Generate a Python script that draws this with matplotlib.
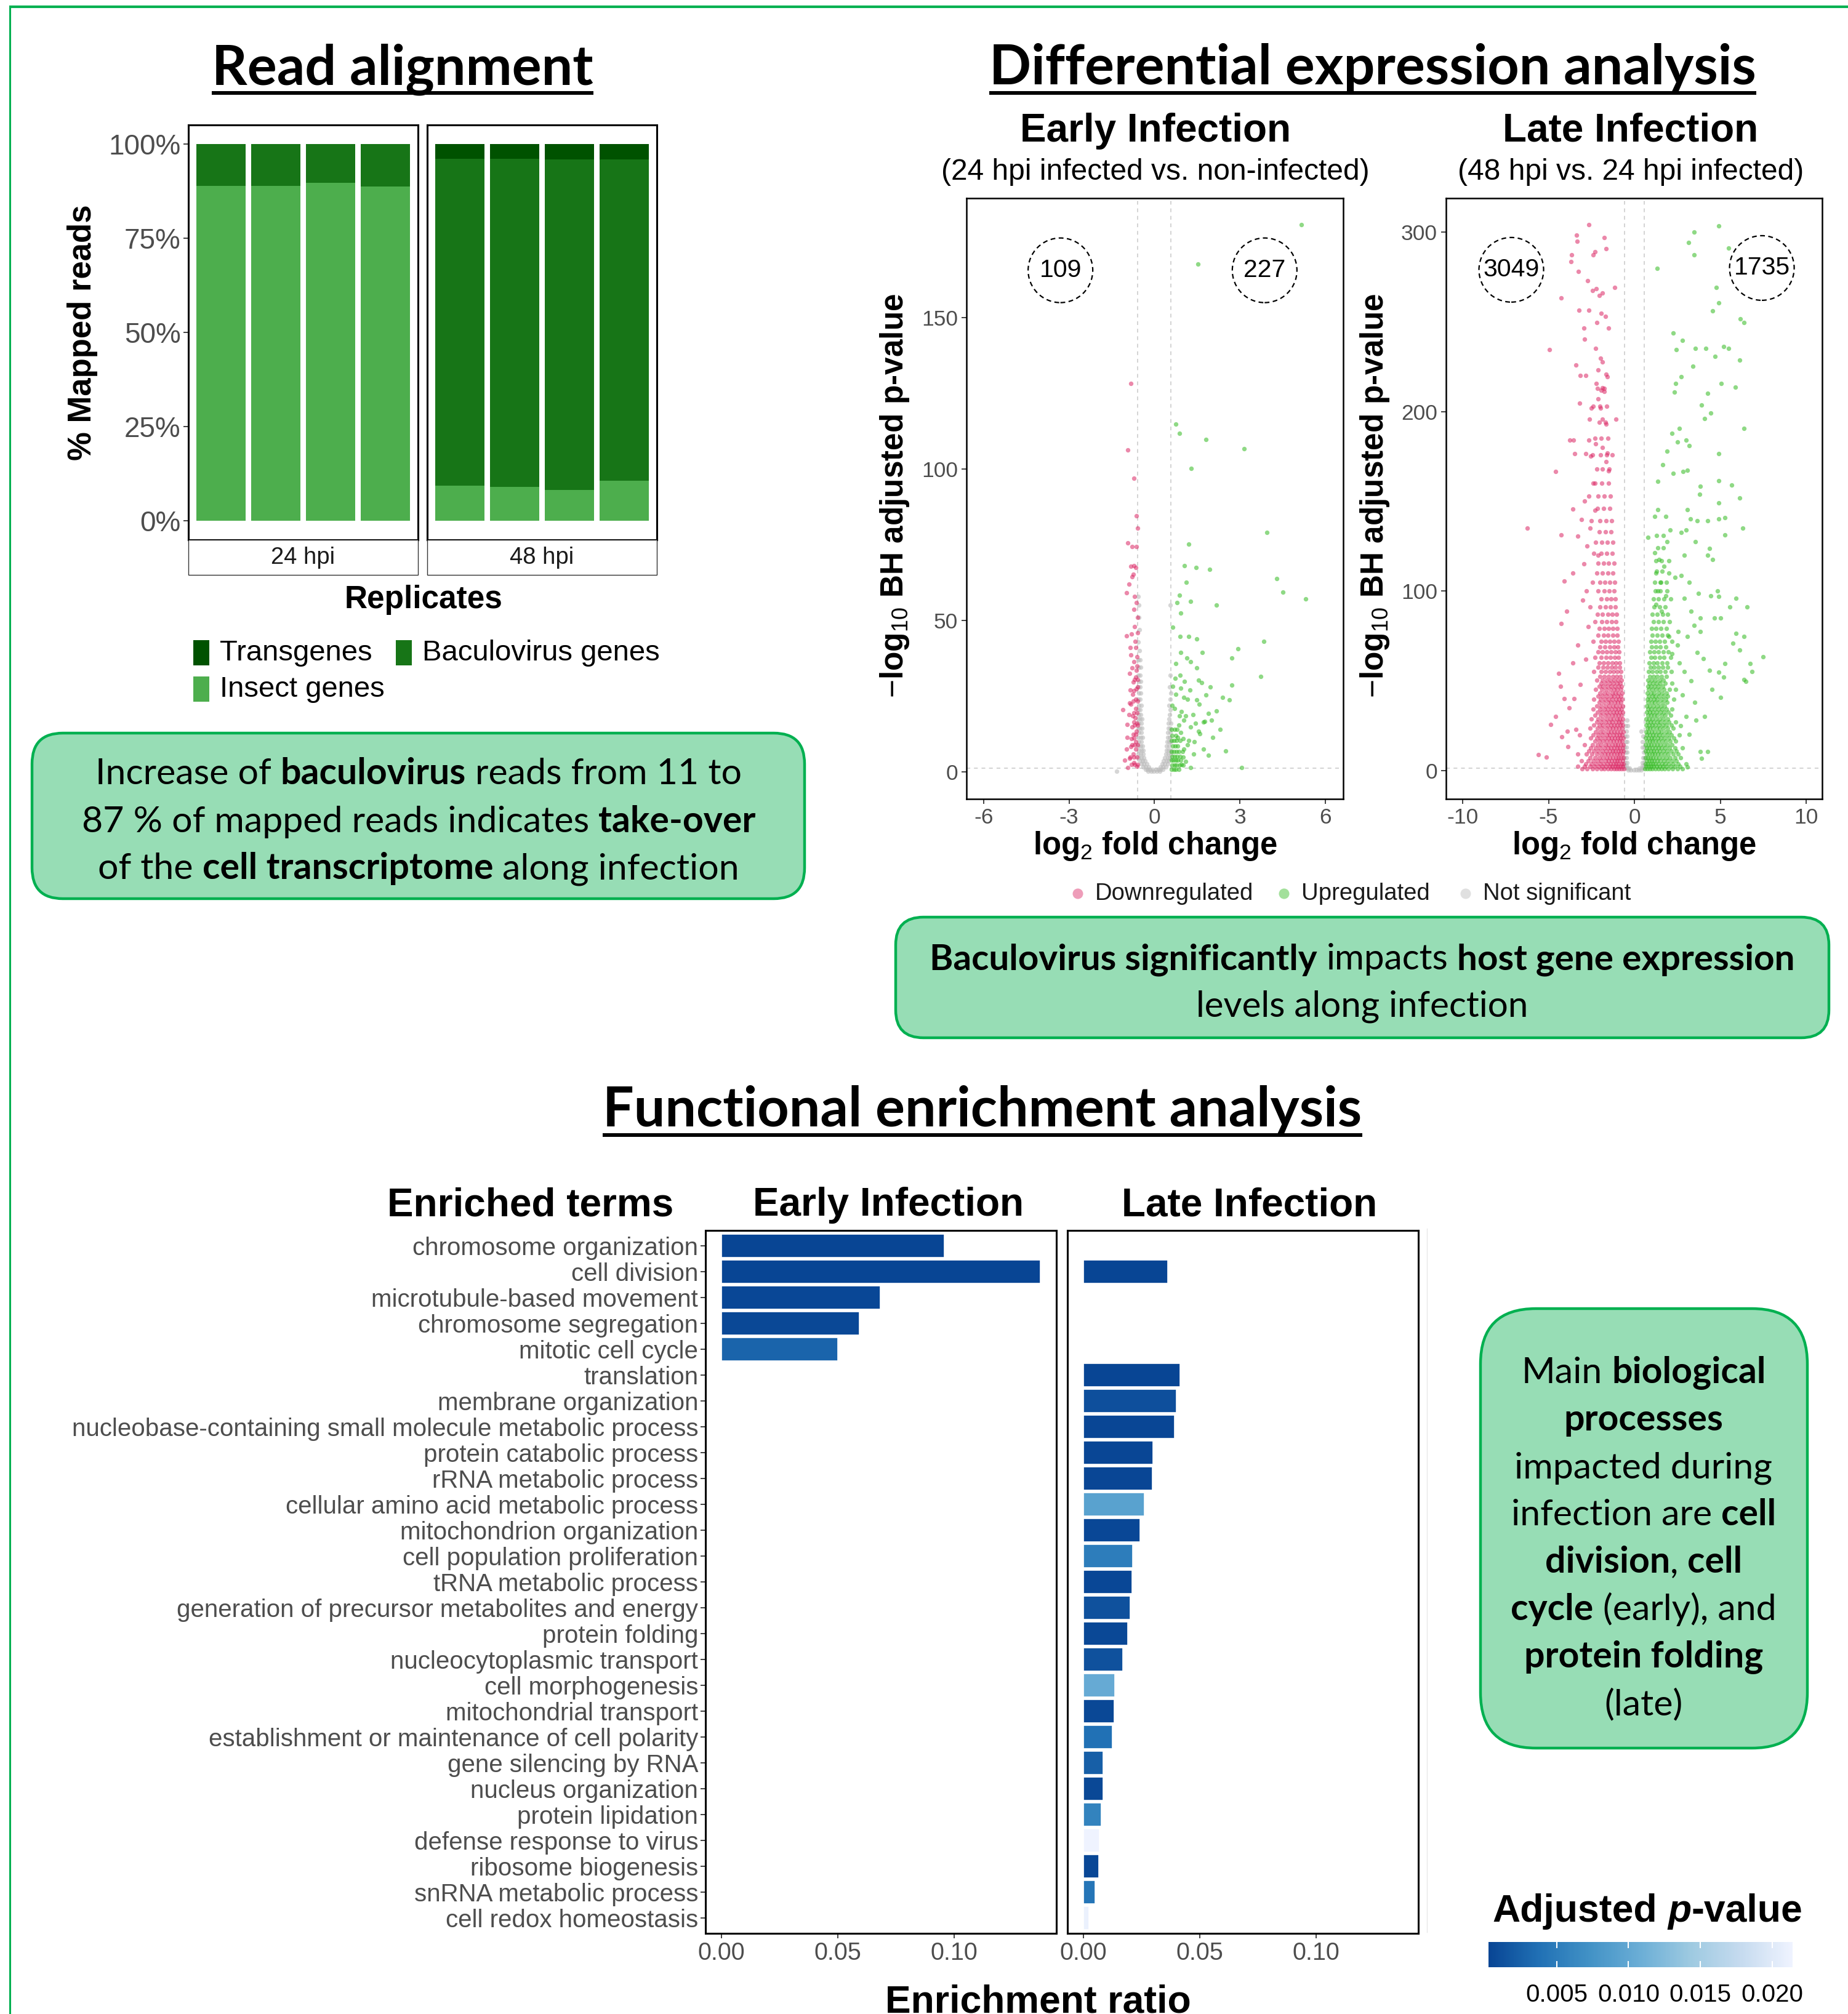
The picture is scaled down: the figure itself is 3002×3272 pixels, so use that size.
import numpy as np
import matplotlib
matplotlib.use("Agg")
import matplotlib.pyplot as plt
from matplotlib.patches import FancyBboxPatch, Rectangle, Ellipse, Circle
from matplotlib.lines import Line2D
from matplotlib.colors import LinearSegmentedColormap, Normalize
import matplotlib.cm as cm

W, H = 3002, 3272
ARIAL = "Liberation Sans"
CALIBRI = "Lato"
plt.rcParams["font.family"] = ARIAL
plt.rcParams["axes.unicode_minus"] = False
plt.rcParams["mathtext.fontset"] = "custom"
plt.rcParams["mathtext.rm"] = ARIAL
plt.rcParams["mathtext.bf"] = ARIAL + ":bold"
plt.rcParams["mathtext.it"] = ARIAL + ":italic"

# ---------------- data ----------------
# read alignment (% of mapped reads, 4 replicates per time point)
replicates = [1, 2, 3, 4]
insect_24 = [88.8, 88.9, 89.7, 88.6]
baculo_24 = [11.2, 11.1, 10.3, 11.4]
trans_24 = [0.0, 0.0, 0.0, 0.0]
insect_48 = [9.3, 9.1, 8.3, 10.6]
baculo_48 = [86.8, 87.0, 87.5, 85.2]
trans_48 = [3.9, 3.9, 4.2, 4.2]

# volcano, early infection: (log2FC, -log10 padj)
early_down = [(-0.82, 128.2), (-0.93, 106.3), (-0.71, 96.9), (-0.63, 84.6), (-0.59, 80.5), (-0.93, 75.7),
              (-0.79, 74.5), (-0.63, 74.5), (-0.82, 67.8), (-0.71, 68.1), (-0.66, 67.4), (-0.75, 65.3),
              (-0.79, 64.4), (-0.98, 59.2), (-0.63, 55.9), (-0.71, 53.7), (-0.59, 51.0), (-0.99, 45.0),
              (-0.81, 45.5), (-0.68, 43.2), (-0.66, 41.0), (-0.82, 38.7), (-0.71, 36.5), (-0.79, 34.3),
              (-0.63, 33.5), (-0.88, 32.5), (-0.66, 31.3), (-0.75, 29.8), (-0.71, 26.8), (-0.77, 25.6),
              (-0.66, 24.1), (-0.82, 22.4), (-0.88, 22.7), (-0.66, 20.9), (-0.77, 18.6), (-0.68, 17.9),
              (-0.73, 16.4), (-0.96, 15.7), (-0.79, 14.9), (-0.63, 13.4), (-0.73, 11.2), (-0.82, 8.3),
              (-0.66, 7.5), (-0.99, 7.5), (-0.88, 4.5), (-0.71, 3.0), (-0.62, 1.8), (-0.93, 1.5),
              (-1.05, 4.0), (-0.80, 11.0), (-0.90, 19.0), (-0.60, 28.0), (-0.85, 41.0), (-0.60, 46.0),
              (-0.70, 58.0), (-0.90, 62.0), (-0.62, 38.0), (-0.62, 16.0), (-0.75, 6.0), (-0.95, 11.5),
              (-0.65, 10.0), (-1.10, 20.5), (-0.70, 48.0), (-0.85, 27.0)]
early_down_rows = [(2.5, [-0.6, -0.7, -0.8]), (5.0, [-0.62, -0.72, -0.85]), (9.0, [-0.6, -0.7, -0.78]),
                   (12.5, [-0.65, -0.75]), (15.5, [-0.6, -0.7]), (19.5, [-0.62, -0.72]),
                   (23.5, [-0.6, -0.75]), (27.5, [-0.64]), (30.5, [-0.6, -0.7]), (35.0, [-0.62])]
early_up = [(5.16, 180.6), (1.53, 167.7), (0.76, 114.8), (0.87, 111.8), (1.80, 109.8), (3.16, 106.7),
            (1.29, 100.3), (3.95, 79.1), (1.20, 75.3), (1.06, 68.1), (1.47, 67.5), (1.94, 66.8),
            (4.29, 63.8), (1.12, 62.6), (4.52, 59.3), (5.31, 57.1), (0.88, 58.4), (0.79, 55.9),
            (0.93, 52.5), (1.27, 56.3), (2.17, 55.1), (0.64, 47.7), (0.90, 44.7), (1.21, 44.7),
            (1.49, 44.0), (1.69, 39.5), (3.84, 43.2), (2.94, 40.7), (2.71, 37.6), (0.93, 39.5),
            (1.13, 37.6), (1.27, 36.5), (0.76, 35.8), (1.49, 34.3), (1.55, 30.4), (3.73, 31.6),
            (2.71, 28.6), (2.62, 23.8), (2.40, 24.6), (0.64, 28.3), (0.93, 27.6), (0.76, 25.6),
            (1.04, 24.6), (1.15, 24.1), (1.49, 23.8), (1.58, 22.4), (2.17, 20.1), (1.89, 19.4),
            (1.72, 16.4), (2.00, 17.1), (1.77, 16.7), (1.55, 13.4), (1.60, 12.7), (0.70, 20.9),
            (0.87, 18.6), (1.04, 17.1), (1.27, 14.9), (1.21, 10.4), (1.72, 7.5), (1.38, 6.0),
            (1.04, 7.5), (3.07, 1.5), (1.27, 1.5), (0.95, 2.5), (1.00, 5.0), (0.82, 11.5), (0.92, 13.0),
            (1.10, 3.5), (1.15, 9.0), (0.85, 15.5), (1.00, 11.0), (0.95, 20.0), (1.10, 18.5),
            (0.62, 22.0), (0.72, 31.0), (1.35, 19.0), (1.45, 16.0), (1.25, 27.0), (1.80, 25.5),
            (2.05, 11.5), (1.95, 28.0), (2.30, 14.0), (1.65, 29.5), (0.90, 32.0), (1.05, 30.0),
            (1.40, 10.0), (1.90, 5.5), (2.50, 7.0)]
early_up_rows = [(0.8, [0.6, 0.68, 0.76, 0.85]), (2.2, [0.62, 0.7, 0.78, 0.88, 1.0]),
                 (3.8, [0.6, 0.67, 0.74, 0.82, 0.92]), (5.2, [0.63, 0.71, 0.8, 0.9]),
                 (6.8, [0.6, 0.68, 0.77, 0.86, 0.98]), (8.5, [0.64, 0.73, 0.82]),
                 (10.5, [0.6, 0.69, 0.78, 0.9]), (12.0, [0.63, 0.75]), (14.0, [0.6, 0.7, 0.8])]
early_grey_rows = [(0.3, [-0.22, -0.12, -0.02, 0.08, 0.18]),
                   (0.9, [-0.32, -0.24, -0.16, -0.08, 0.06, 0.14, 0.22, 0.3]),
                   (1.7, [-0.4, -0.3, -0.2, 0.2, 0.3, 0.4]),
                   (2.6, [-0.46, -0.37, -0.27, 0.27, 0.37, 0.46]),
                   (3.6, [-0.5, -0.42, -0.33, 0.32, 0.42, 0.5]),
                   (4.7, [-0.54, -0.46, -0.38, 0.37, 0.46, 0.54]),
                   (5.9, [-0.56, -0.48, -0.4, 0.4, 0.49, 0.57]),
                   (7.2, [-0.55, -0.47, -0.4, 0.42, 0.5, 0.57]),
                   (8.6, [-0.56, -0.48, -0.41, 0.43, 0.51]),
                   (10.0, [-0.54, -0.46, 0.44, 0.52, 0.58]),
                   (11.5, [-0.57, -0.49, -0.42, 0.46, 0.54]),
                   (13.0, [-0.55, -0.47, 0.47, 0.55]),
                   (14.5, [-0.57, -0.5, -0.43, 0.48, 0.56]),
                   (16.0, [-0.55, -0.47, 0.5, 0.57]),
                   (17.5, [-0.57, -0.5, -0.44, 0.51]),
                   (19.0, [-0.55, -0.48, 0.53]),
                   (20.5, [-0.57, -0.5, 0.55]),
                   (22.0, [-0.55, -0.47, 0.52]),
                   (24.0, [-0.56, -0.5, 0.55]),
                   (26.0, [-0.54, -0.48, 0.57]),
                   (28.0, [-0.56, -0.5, 0.53]),
                   (30.0, [-0.55, -0.49]),
                   (32.0, [-0.57, -0.51, 0.56]),
                   (34.5, [-0.54, -0.48]),
                   (37.0, [-0.56, -0.5]),
                   (40.0, [-0.53]), (43.0, [-0.56]), (47.0, [-0.52]), (51.0, [-0.55]),
                   (55.0, [-0.54, 0.55]), (58.0, [-0.56]), (0.3, [-1.33])]

# volcano, late infection
late_down = [(-2.67, 304.3), (-3.36, 298.3), (-3.34, 295.0), (-1.76, 296.8), (-1.66, 290.7), (-3.67, 287.4),
             (-3.71, 283.7), (-2.30, 289.2), (-2.40, 287.4), (-3.25, 278.1), (-2.72, 273.1), (-1.15, 269.3),
             (-2.43, 267.3), (-2.03, 264.8), (-1.85, 266.0), (-2.21, 268.6), (-4.28, 263.5), (-3.22, 256.5),
             (-2.67, 256.5), (-1.94, 254.7), (-1.70, 253.0), (-2.18, 249.7), (-1.52, 246.4), (-2.94, 246.4),
             (-2.90, 240.4), (-4.95, 234.6), (-2.25, 235.3), (-1.97, 229.6), (-1.85, 227.8), (-2.12, 223.3),
             (-1.66, 220.7), (-1.57, 219.5), (-3.40, 225.8), (-3.16, 220.2), (-2.85, 220.2), (-2.21, 215.7),
             (-1.85, 213.2), (-1.94, 211.9), (-1.76, 211.2), (-2.12, 206.9), (-3.18, 204.6), (-2.52, 201.9),
             (-1.99, 201.9), (-2.61, 195.6), (-1.85, 195.6), (-1.06, 195.6), (-1.66, 193.0), (-3.77, 184.2),
             (-3.55, 184.2), (-3.49, 176.7), (-2.85, 176.7), (-2.67, 184.0), (-2.25, 182.0), (-1.85, 180.0),
             (-1.57, 177.0), (-1.30, 176.0), (-1.66, 172.0), (-1.52, 167.0), (-4.59, 166.6), (-3.58, 145.7),
             (-6.23, 135.2), (-4.28, 131.4), (-3.31, 130.5), (-2.76, 125.0), (-2.12, 120.0), (-4.10, 105.5),
             (-3.95, 88.6), (-4.26, 81.8), (-4.86, 25.7), (-5.14, 7.3), (-5.59, 8.8), (-4.59, 30.0),
             (-4.22, 18.9), (-3.86, 13.1), (-4.40, 54.0), (-4.30, 47.0), (-4.10, 40.0), (-3.80, 35.0),
             (-3.60, 60.0), (-3.30, 70.0), (-3.00, 95.0), (-2.80, 100.0), (-3.40, 23.0), (-3.90, 22.0),
             (-2.90, 150.0), (-2.40, 160.0), (-3.10, 140.0), (-2.60, 135.0), (-3.60, 110.0), (-2.30, 145.0),
             (-2.95, 115.0), (-2.70, 80.0), (-3.15, 48.0), (-2.85, 62.0), (-3.50, 40.0), (-2.55, 175.0)]
late_down_rows = [
    (0.8, [-0.62, -0.75, -0.9, -1.05, -1.2, -1.38, -1.55, -1.75, -1.95, -2.2, -2.45, -2.75, -3.05]),
    (2.2, [-0.68, -0.82, -0.97, -1.12, -1.28, -1.45, -1.65, -1.85, -2.08, -2.32, -2.6, -2.9, -3.3]),
    (3.8, [-0.63, -0.77, -0.92, -1.07, -1.22, -1.4, -1.58, -1.78, -2.0, -2.25, -2.5, -2.85]),
    (5.5, [-0.7, -0.85, -1.0, -1.15, -1.32, -1.5, -1.7, -1.92, -2.15, -2.4, -2.7, -3.1]),
    (7.2, [-0.64, -0.78, -0.93, -1.08, -1.25, -1.43, -1.62, -1.83, -2.05, -2.3, -2.6]),
    (9.0, [-0.7, -0.85, -1.0, -1.17, -1.35, -1.53, -1.73, -1.95, -2.2, -2.48, -2.8, -3.3]),
    (10.8, [-0.63, -0.78, -0.93, -1.1, -1.27, -1.45, -1.65, -1.87, -2.1, -2.35, -2.65]),
    (12.6, [-0.7, -0.86, -1.02, -1.19, -1.37, -1.56, -1.77, -2.0, -2.25, -2.55]),
    (14.4, [-0.64, -0.8, -0.96, -1.13, -1.3, -1.49, -1.7, -1.92, -2.15, -2.45, -2.9]),
    (16.2, [-0.71, -0.87, -1.04, -1.21, -1.4, -1.6, -1.82, -2.05, -2.3]),
    (18.0, [-0.65, -0.81, -0.98, -1.15, -1.33, -1.52, -1.73, -1.96, -2.2, -2.55]),
    (19.8, [-0.72, -0.88, -1.05, -1.23, -1.42, -1.63, -1.85, -2.1, -2.4, -3.2]),
    (21.6, [-0.66, -0.82, -0.99, -1.17, -1.36, -1.56, -1.78, -2.0, -2.25]),
    (23.4, [-0.73, -0.9, -1.07, -1.25, -1.45, -1.66, -1.9, -2.15, -2.6]),
    (25.2, [-0.67, -0.83, -1.0, -1.19, -1.38, -1.59, -1.82, -2.05, -2.35]),
    (27.0, [-0.74, -0.91, -1.09, -1.28, -1.48, -1.7, -1.95, -2.2]),
    (28.8, [-0.68, -0.85, -1.02, -1.21, -1.41, -1.62, -1.86, -2.12, -2.5]),
    (30.6, [-0.75, -0.92, -1.1, -1.3, -1.5, -1.73, -1.98, -2.3]),
    (32.4, [-0.69, -0.86, -1.04, -1.23, -1.43, -1.65, -1.9, -2.15]),
    (34.2, [-0.76, -0.94, -1.12, -1.32, -1.53, -1.76, -2.02, -2.4]),
    (36.0, [-0.7, -0.88, -1.06, -1.25, -1.46, -1.68, -1.93, -2.2]),
    (37.8, [-0.78, -0.96, -1.15, -1.35, -1.56, -1.8, -2.05]),
    (39.6, [-0.72, -0.9, -1.08, -1.28, -1.49, -1.72, -1.98, -2.35]),
    (41.4, [-0.79, -0.98, -1.17, -1.38, -1.6, -1.85, -2.1]),
    (43.2, [-0.73, -0.92, -1.11, -1.31, -1.53, -1.77, -2.0]),
    (45.0, [-0.8, -1.0, -1.2, -1.41, -1.64, -1.9, -2.25]),
    (46.8, [-0.75, -0.94, -1.14, -1.35, -1.57, -1.82, -2.05]),
    (48.6, [-0.82, -1.02, -1.23, -1.45, -1.68, -1.95]),
    (50.4, [-0.77, -0.97, -1.17, -1.39, -1.62, -1.87, -2.2]),
    (52.5, [-0.84, -1.05, -1.27, -1.5, -1.75, -2.0]),
    (55.0, [-0.8, -1.0, -1.22, -1.45, -1.7, -1.95, -2.35]),
    (57.5, [-0.88, -1.1, -1.33, -1.57, -1.83, -2.1]),
    (60.0, [-0.85, -1.07, -1.3, -1.54, -1.8, -2.05]),
    (63.0, [-0.92, -1.15, -1.4, -1.65, -1.92, -2.3]),
    (66.0, [-0.9, -1.12, -1.36, -1.6, -1.87, -2.1]),
    (69.0, [-0.97, -1.2, -1.45, -1.72, -2.0]),
    (72.0, [-0.95, -1.18, -1.42, -1.68, -1.95, -2.4]),
    (75.5, [-1.02, -1.27, -1.53, -1.8, -2.1]),
    (79.0, [-1.0, -1.24, -1.5, -1.77, -2.05]),
    (83.0, [-1.08, -1.33, -1.6, -1.9, -2.3]),
    (87.0, [-1.05, -1.3, -1.56, -1.85, -2.15]),
    (91.0, [-1.12, -1.4, -1.68, -2.0, -2.6]),
    (95.5, [-1.1, -1.36, -1.63, -1.93]),
    (100.0, [-1.18, -1.46, -1.75, -2.1]),
    (105.0, [-1.15, -1.42, -1.72, -2.0, -2.45]),
    (110.0, [-1.25, -1.55, -1.85, -2.2]),
    (115.5, [-1.2, -1.5, -1.8, -2.1]),
    (121.0, [-1.3, -1.62, -1.95, -2.35]),
    (127.0, [-1.27, -1.58, -1.9, -2.25]),
    (133.0, [-1.38, -1.7, -2.05]),
    (139.0, [-1.33, -1.66, -2.0, -2.5]),
    (146.0, [-1.45, -1.8, -2.15]),
    (153.0, [-1.4, -1.75, -2.1, -2.65]),
    (160.0, [-1.52, -1.9, -2.3]),
    (168.0, [-1.48, -1.85, -2.2]),
    (176.0, [-1.6, -1.98, -2.45]),
    (185.0, [-1.55, -1.93, -2.3]),
    (194.0, [-1.68, -2.05]),
    (203.0, [-1.62, -2.0, -2.4]),
    (213.0, [-1.75, -2.15])]
late_up = [(4.92, 303.3), (3.46, 300.0), (3.14, 294.2), (3.49, 287.4), (5.47, 291.2), (1.32, 279.9),
           (4.77, 269.0), (4.92, 260.5), (4.55, 256.0), (6.16, 251.7), (6.38, 249.7), (2.27, 243.9),
           (2.78, 239.6), (2.45, 234.6), (3.55, 235.1), (4.15, 235.1), (5.19, 236.3), (5.47, 235.3),
           (4.70, 230.8), (6.11, 228.8), (3.42, 225.3), (2.72, 219.5), (2.39, 215.7), (5.06, 215.7),
           (5.87, 213.7), (2.32, 210.7), (4.28, 210.2), (3.91, 203.6), (4.46, 199.3), (4.10, 196.1),
           (6.38, 190.5), (2.18, 188.0), (2.63, 190.5), (2.50, 183.0), (3.00, 184.2), (3.18, 181.0),
           (1.90, 178.0), (1.63, 170.4), (2.27, 165.4), (2.82, 166.6), (3.09, 167.4), (4.92, 176.7),
           (4.92, 161.6), (5.65, 159.0), (6.12, 152.0), (1.35, 161.0), (3.82, 158.3), (3.78, 154.0),
           (4.92, 149.0), (1.35, 145.2), (1.17, 141.5), (1.81, 141.5), (3.09, 145.2), (3.27, 140.2),
           (3.64, 139.0), (4.28, 139.0), (4.92, 140.2), (5.25, 140.7), (6.29, 135.0), (5.28, 131.4),
           (0.80, 130.0), (2.08, 134.0), (1.90, 127.6), (2.72, 132.6), (3.00, 133.9), (3.55, 127.6),
           (2.91, 120.0), (4.37, 123.8), (4.28, 120.0), (4.55, 117.5), (1.17, 121.3), (1.44, 117.5),
           (1.72, 113.8), (1.99, 110.0), (2.36, 107.5), (1.26, 110.0), (1.54, 105.0), (1.35, 100.0),
           (1.81, 97.4), (1.26, 92.4), (1.59, 88.6), (2.72, 108.7), (3.18, 105.0), (3.73, 98.7),
           (4.46, 97.4), (4.83, 100.0), (4.92, 96.9), (5.92, 96.1), (6.56, 91.1), (2.91, 96.1),
           (3.31, 88.6), (3.82, 84.8), (4.64, 84.8), (5.01, 84.8), (5.56, 91.1), (5.92, 76.5),
           (6.38, 74.8), (5.74, 71.0), (6.11, 67.2), (6.75, 59.7), (6.84, 55.1), (7.48, 63.4),
           (6.38, 50.8), (6.47, 49.6), (5.28, 59.7), (4.92, 54.6), (5.01, 40.8), (5.19, 52.1),
           (4.37, 55.9), (4.00, 62.2), (3.64, 65.9), (3.82, 10.6), (4.28, 10.6), (3.91, 6.8),
           (3.09, 1.8), (1.99, 74.8), (2.54, 77.3), (3.09, 74.8), (3.46, 81.0), (3.82, 77.3),
           (2.60, 60.0), (2.90, 55.0), (3.30, 50.0), (2.40, 45.0), (2.80, 42.0), (3.50, 38.0),
           (3.00, 30.0), (2.70, 25.0), (3.20, 20.0), (2.20, 65.0), (2.50, 70.0), (4.50, 45.0),
           (4.10, 30.0), (3.60, 28.0)]
late_up_rows = [
    (0.8, [0.62, 0.75, 0.9, 1.05, 1.2, 1.38, 1.56, 1.76, 1.98, 2.22, 2.5, 2.8]),
    (2.2, [0.68, 0.82, 0.97, 1.12, 1.29, 1.47, 1.66, 1.87, 2.1, 2.35, 2.65]),
    (3.8, [0.63, 0.77, 0.92, 1.07, 1.23, 1.41, 1.6, 1.8, 2.02, 2.27, 2.55, 3.0]),
    (5.5, [0.7, 0.85, 1.0, 1.16, 1.33, 1.51, 1.71, 1.93, 2.17, 2.45]),
    (7.2, [0.64, 0.78, 0.93, 1.09, 1.26, 1.44, 1.64, 1.85, 2.08, 2.35, 2.7]),
    (9.0, [0.7, 0.86, 1.02, 1.18, 1.36, 1.55, 1.76, 1.98, 2.25, 2.55]),
    (10.8, [0.63, 0.79, 0.95, 1.11, 1.29, 1.48, 1.68, 1.9, 2.15, 2.45]),
    (12.6, [0.71, 0.87, 1.03, 1.2, 1.38, 1.58, 1.8, 2.05, 2.35, 2.8]),
    (14.4, [0.65, 0.81, 0.97, 1.14, 1.32, 1.51, 1.72, 1.95, 2.2]),
    (16.2, [0.72, 0.88, 1.05, 1.22, 1.41, 1.61, 1.83, 2.08, 2.4]),
    (18.0, [0.66, 0.82, 0.99, 1.16, 1.35, 1.55, 1.77, 2.0, 2.3]),
    (19.8, [0.73, 0.9, 1.07, 1.25, 1.44, 1.65, 1.88, 2.15, 2.6]),
    (21.6, [0.67, 0.84, 1.01, 1.19, 1.38, 1.59, 1.82, 2.05]),
    (23.4, [0.74, 0.91, 1.09, 1.28, 1.48, 1.7, 1.94, 2.25]),
    (25.2, [0.68, 0.85, 1.03, 1.22, 1.42, 1.63, 1.87, 2.15]),
    (27.0, [0.75, 0.93, 1.12, 1.31, 1.52, 1.75, 2.0, 2.4]),
    (28.8, [0.69, 0.87, 1.05, 1.25, 1.45, 1.67, 1.92]),
    (30.6, [0.77, 0.95, 1.14, 1.34, 1.56, 1.8, 2.1]),
    (32.4, [0.71, 0.89, 1.08, 1.28, 1.49, 1.72, 1.98]),
    (34.2, [0.78, 0.97, 1.17, 1.38, 1.6, 1.85, 2.2]),
    (36.0, [0.72, 0.91, 1.1, 1.31, 1.53, 1.77]),
    (37.8, [0.8, 0.99, 1.19, 1.41, 1.64, 1.9]),
    (39.6, [0.74, 0.93, 1.13, 1.34, 1.57, 1.82, 2.3]),
    (41.4, [0.82, 1.02, 1.22, 1.44, 1.68, 1.95]),
    (43.2, [0.76, 0.95, 1.16, 1.38, 1.61, 1.87]),
    (45.0, [0.84, 1.04, 1.25, 1.48, 1.72, 2.05]),
    (46.8, [0.78, 0.98, 1.19, 1.41, 1.65]),
    (48.6, [0.86, 1.07, 1.29, 1.52, 1.78, 2.2]),
    (50.4, [0.8, 1.01, 1.22, 1.45, 1.7]),
    (52.5, [0.88, 1.1, 1.33, 1.57, 1.85]),
    (55.0, [0.83, 1.05, 1.28, 1.52, 1.8, 2.15]),
    (57.5, [0.92, 1.15, 1.39, 1.65, 1.95]),
    (60.0, [0.87, 1.1, 1.34, 1.6, 1.88]),
    (63.0, [0.95, 1.19, 1.45, 1.73, 2.1]),
    (66.0, [0.9, 1.14, 1.4, 1.68, 1.98]),
    (69.0, [1.0, 1.25, 1.52, 1.82]),
    (72.0, [0.95, 1.2, 1.47, 1.76, 2.2]),
    (75.5, [1.05, 1.31, 1.6, 1.92]),
    (79.0, [1.0, 1.27, 1.55, 1.85]),
    (83.0, [1.1, 1.38, 1.68, 2.05]),
    (87.0, [1.05, 1.33, 1.63, 1.95]),
    (91.0, [1.15, 1.45, 1.78]),
    (95.5, [1.1, 1.4, 1.72, 2.1]),
    (100.0, [1.2, 1.52, 1.88]),
    (105.0, [1.18, 1.5, 1.85]),
    (111.0, [1.28, 1.62]),
    (117.0, [1.25, 1.58, 2.0]),
    (124.0, [1.35, 1.7]),
    (131.0, [1.3, 1.68])]
late_grey_rows = [(0.3, [-0.35, -0.2, -0.05, 0.1, 0.25, 0.4]),
                  (1.2, [-0.5, -0.4, -0.28, 0.3, 0.42, 0.52]),
                  (2.5, [-0.56, -0.46, 0.46, 0.56]),
                  (4.5, [-0.55, -0.45, 0.48, 0.57]),
                  (7.0, [-0.57, -0.48, 0.5, 0.58]),
                  (10.0, [-0.52, -0.44, 0.52]),
                  (13.0, [-0.56, -0.46, 0.48, 0.56]),
                  (16.0, [-0.5, -0.42, 0.45]),
                  (19.0, [-0.55, -0.44, 0.5]),
                  (22.0, [-0.48, 0.38]),
                  (25.0, [-0.52, -0.4]),
                  (28.0, [-0.45])]
n_early = (109, 227)
n_late = (3049, 1735)

# functional enrichment
terms = ["chromosome organization", "cell division", "microtubule-based movement",
         "chromosome segregation", "mitotic cell cycle", "translation", "membrane organization",
         "nucleobase-containing small molecule metabolic process", "protein catabolic process",
         "rRNA metabolic process", "cellular amino acid metabolic process", "mitochondrion organization",
         "cell population proliferation", "tRNA metabolic process",
         "generation of precursor metabolites and energy", "protein folding",
         "nucleocytoplasmic transport", "cell morphogenesis", "mitochondrial transport",
         "establishment or maintenance of cell polarity", "gene silencing by RNA",
         "nucleus organization", "protein lipidation", "defense response to virus",
         "ribosome biogenesis", "snRNA metabolic process", "cell redox homeostasis"]
nan = np.nan
early_ratio = [0.0958, 0.137, 0.0682, 0.0593, 0.0501] + [nan] * 22
early_padj = [0.00027, 0.0003, 0.0005, 0.0006, 0.0028] + [nan] * 22
late_ratio = [nan, 0.0362, nan, nan, nan, 0.0415, 0.0399, 0.0391, 0.0299, 0.0297, 0.0263, 0.0244,
              0.0213, 0.0209, 0.0201, 0.0192, 0.0171, 0.0136, 0.0134, 0.0126, 0.0086, 0.0084,
              0.0076, 0.0069, 0.0066, 0.0051, 0.0024]
late_padj = [nan, 0.0003, nan, nan, nan, 0.0003, 0.0011, 0.0004, 0.0004, 0.0004, 0.0093, 0.0005,
             0.0051, 0.0005, 0.0013, 0.0006, 0.0013, 0.0104, 0.0006, 0.0039, 0.0024, 0.0006,
             0.0058, 0.0214, 0.0005, 0.0043, 0.0210]

# ---------------- styling ----------------
C_TRANS, C_BAC, C_INS = "#005200", "#177517", "#4DAE4D"
C_DOWN, C_UP, C_NS = "#DB2764", "#33BB22", "#BBBBBB"
BOX_FC, BOX_EC = "#97DDB5", "#00B050"
GREY30, GREY20 = "#4D4D4D", "#333333"
BLUES = ["#084594", "#2171B5", "#4292C6", "#6BAED6", "#9ECAE1", "#C6DBEF", "#EFF3FF"]
PT = 28  # volcano point size

fig = plt.figure(figsize=(W / 100, H / 100), dpi=100)
R = fig.canvas.get_renderer()


def px_axes(x0, y0, x1, y1):
    return fig.add_axes([x0 / W, 1 - y1 / H, (x1 - x0) / W, (y1 - y0) / H])


def ftext(x, y, s, **kw):
    return fig.text(x / W, 1 - y / H, s, **kw)


def measure(s, **kw):
    t = fig.text(0, 0, s, **kw)
    w = t.get_window_extent(renderer=R).width
    t.remove()
    return w


def rich(xc, yb, parts, size, family):
    # parts: list of (text, weight, style); laid out left to right, centred on xc
    segs, x = [], 0.0
    for txt, wt, st in parts:
        kw = dict(fontsize=size, fontweight=wt, fontstyle=st, family=family)
        sp = measure("a a", **kw) - measure("aa", **kw)
        x += sp * (len(txt) - len(txt.lstrip(" ")))
        core = txt.strip(" ")
        segs.append((x, core, kw))
        x += measure(core, **kw)
        x += sp * (len(txt) - len(txt.rstrip(" ")))
    x0 = xc - x / 2
    for off, core, kw in segs:
        ftext(x0 + off, yb, core, ha="left", va="baseline", color="black", **kw)


def section_title(xc, yb, s):
    t = ftext(xc, yb, s, ha="center", va="baseline", fontsize=64.5, fontweight="bold", family=CALIBRI)
    bb = t.get_window_extent(renderer=R)
    fig.add_artist(Line2D([bb.x0 / 100, bb.x1 / 100], [(H - yb - 14) / 100] * 2,
                          transform=fig.dpi_scale_trans, color="black", lw=4.3, solid_capstyle="butt"))


def green_box(x0, y0, x1, y1, r):
    fig.add_artist(FancyBboxPatch((x0 / 100, (H - y1) / 100), (x1 - x0) / 100, (y1 - y0) / 100,
                                  boxstyle="round,pad=0,rounding_size=%.3f" % (r / 100),
                                  transform=fig.dpi_scale_trans, fc=BOX_FC, ec=BOX_EC, lw=3.2))


def expand(points, rows):
    xs = [p[0] for p in points] + [x for y, row in rows for x in row]
    ys = [p[1] for p in points] + [y for y, row in rows for x in row]
    return xs, ys


# green frame
fig.add_artist(Line2D([15 / 100, W / 100], [(H - 11) / 100] * 2, transform=fig.dpi_scale_trans,
                      color=BOX_EC, lw=3, solid_capstyle="butt"))
fig.add_artist(Line2D([16 / 100, 16 / 100], [0, (H - 9) / 100], transform=fig.dpi_scale_trans,
                      color=BOX_EC, lw=2.2, solid_capstyle="butt"))

# ---------------- read alignment ----------------
section_title(654, 137, "Read alignment")
for i, (ins, bac, tr, lab) in enumerate([(insect_24, baculo_24, trans_24, "24 hpi"),
                                          (insect_48, baculo_48, trans_48, "48 hpi")]):
    x0 = 306 + i * 388
    ax = px_axes(x0, 203, x0 + 373, 877)
    ins, bac, tr = np.array(ins), np.array(bac), np.array(tr)
    ax.bar(replicates, ins, width=0.9, color=C_INS, lw=0)
    ax.bar(replicates, bac, bottom=ins, width=0.9, color=C_BAC, lw=0)
    ax.bar(replicates, tr, bottom=ins + bac, width=0.9, color=C_TRANS, lw=0)
    ax.set_xlim(0.4, 4.6)
    ax.set_ylim(-5, 105)
    ax.set_xticks([])
    for s in ax.spines.values():
        s.set_linewidth(2.2)
    if i == 0:
        ax.set_yticks([0, 25, 50, 75, 100])
        ax.set_yticklabels(["0%", "25%", "50%", "75%", "100%"])
        ax.tick_params(axis="y", labelsize=33, labelcolor=GREY30, color=GREY20, length=5.5, width=1.3, pad=3.5)
    else:
        ax.set_yticks([])
    fig.add_artist(Rectangle((x0 / 100, (H - 934) / 100), 3.73, 0.57, transform=fig.dpi_scale_trans,
                             fc="white", ec=GREY20, lw=1))
    ftext(x0 + 186, 906, lab, ha="center", va="center", fontsize=27.5, color="#1A1A1A")

ftext(688, 988, "Replicates", ha="center", va="baseline", fontsize=37, fontweight="bold")
ftext(134, 540, "% Mapped reads", ha="center", va="center", rotation=90, fontsize=38, fontweight="bold")
for (kx, ky, col, lab) in [(314, 1040, C_TRANS, "Transgenes"), (643, 1040, C_BAC, "Baculovirus genes"),
                           (314, 1099, C_INS, "Insect genes")]:
    fig.add_artist(Rectangle((kx / 100, (H - ky - 41) / 100), 0.26, 0.41, transform=fig.dpi_scale_trans,
                             fc=col, lw=0))
    ftext(kx + 43, ky + 21, lab, ha="left", va="center", fontsize=34)

green_box(52, 1191, 1307, 1460, 50)
rich(680, 1274, [("Increase of ", "normal", "normal"), ("baculovirus", "bold", "normal"),
                 (" reads from 11 to", "normal", "normal")], 42.5, CALIBRI)
rich(680, 1352, [("87 % of mapped reads indicates ", "normal", "normal"),
                 ("take-over", "bold", "normal")], 42.5, CALIBRI)
rich(680, 1428, [("of the ", "normal", "normal"), ("cell transcriptome", "bold", "normal"),
                 (" along infection", "normal", "normal")], 42.5, CALIBRI)

# ---------------- differential expression ----------------
section_title(2230, 137, "Differential expression analysis")


def volcano(box, xlim, ylim, xticks, yticks, down, down_rows, up, up_rows, grey_rows, counts, cpos,
            title, sub, xc_lab):
    ax = px_axes(*box)
    gx, gy = expand([], grey_rows)
    dx, dy = expand(down, down_rows)
    ux, uy = expand(up, up_rows)
    ax.scatter(gx, gy, s=PT, c=C_NS, alpha=0.6, lw=0, zorder=2)
    ax.scatter(dx, dy, s=PT, c=C_DOWN, alpha=0.55, lw=0, zorder=3)
    ax.scatter(ux, uy, s=PT, c=C_UP, alpha=0.55, lw=0, zorder=3)
    for v in (-0.585, 0.585):
        ax.axvline(v, color="#C8C8C8", lw=1.1, ls=(0, (4, 4)), zorder=1)
    ax.axhline(1.301, color="#C8C8C8", lw=1.1, ls=(0, (4, 4)), zorder=1)
    ax.set_xlim(*xlim)
    ax.set_ylim(*ylim)
    ax.set_xticks(xticks)
    ax.set_yticks(yticks)
    ax.tick_params(labelsize=25.5, labelcolor=GREY30, color=GREY20, length=6, width=1.3, pad=4)
    for s in ax.spines.values():
        s.set_linewidth(1.8)
    # dashed count circles, 105 px across
    pxx = (box[2] - box[0]) / (xlim[1] - xlim[0])
    pxy = (box[3] - box[1]) / (ylim[1] - ylim[0])
    for n, (cx, cy) in zip(counts, cpos):
        ax.add_patch(Ellipse((cx, cy), 105 / pxx, 105 / pxy, fc="none", ec="black", lw=1.6,
                             ls=(0, (3.5, 2.5)), zorder=5))
        ax.text(cx, cy, str(n), ha="center", va="center", fontsize=29.5, zorder=6)
    xc = (box[0] + box[2]) / 2
    ftext(xc_lab, 230, title, ha="center", va="baseline", fontsize=46, fontweight="bold")
    ftext(xc_lab, 292, sub, ha="center", va="baseline", fontsize=34.5)
    ftext(xc, 1388, r"log$_2$ fold change", ha="center", va="baseline", fontsize=36.5, fontweight="bold")
    ftext(box[0] - 116, 805, r"$-$log$_{10}$ BH adjusted p-value", ha="center", va="center",
          rotation=90, fontsize=37, fontweight="bold")
    return ax


volcano((1570, 322, 2182, 1298), (-6.6, 6.63), (-8.9, 189.4), [-6, -3, 0, 3, 6], [0, 50, 100, 150],
        early_down, early_down_rows, early_up, early_up_rows, early_grey_rows, n_early,
        [(-3.3, 165.6), (3.87, 165.6)], "Early Infection", "(24 hpi infected vs. non-infected)", 1877)
volcano((2349, 322, 2960, 1298), (-10.97, 10.93), (-15.9, 318.9), [-10, -5, 0, 5, 10], [0, 100, 200, 300],
        late_down, late_down_rows, late_up, late_up_rows, late_grey_rows, n_late,
        [(-7.17, 279.0), (7.42, 280.0)], "Late Infection", "(48 hpi vs. 24 hpi infected)", 2649)

for (dx, col, lab) in [(1751, C_DOWN, "Downregulated"), (2086, C_UP, "Upregulated"), (2381, C_NS, "Not significant")]:
    fig.add_artist(Circle((dx / 100, (H - 1452) / 100), 0.085, transform=fig.dpi_scale_trans,
                          fc=col, alpha=0.45, lw=0))
    ftext(dx + 28, 1452, lab, ha="left", va="center", fontsize=27.5, color="#1A1A1A")

green_box(1455, 1490, 2971, 1686, 45)
rich(2213, 1575, [("Baculovirus significantly", "bold", "normal"), (" impacts ", "normal", "normal"),
                  ("host gene expression", "bold", "normal")], 42, CALIBRI)
rich(2213, 1652, [("levels along infection", "normal", "normal")], 42, CALIBRI)

# ---------------- functional enrichment ----------------
section_title(1596, 1830, "Functional enrichment analysis")
all_p = [p for p in early_padj + late_padj if not np.isnan(p)]
cmap = LinearSegmentedColormap.from_list("blues_r", BLUES)
norm = Normalize(vmin=min(all_p), vmax=max(all_p))
ypos = np.arange(len(terms))
for i, (ratio, padj, x0) in enumerate([(early_ratio, early_padj, 1146), (late_ratio, late_padj, 1734)]):
    ax = px_axes(x0, 1999, x0 + 570, 3141)
    r = np.array(ratio)
    p = np.array(padj)
    ok = ~np.isnan(r)
    ax.barh(ypos[ok], r[ok], height=0.9, color=cmap(norm(p[ok])), edgecolor="white", lw=1.2)
    ax.set_xlim(-0.0068, 0.1438)
    ax.set_ylim(len(terms) - 0.4, -0.6)
    ax.set_xticks([0.0, 0.05, 0.10])
    ax.set_xticklabels(["0.00", "0.05", "0.10"])
    ax.tick_params(axis="x", labelsize=28.5, labelcolor=GREY30, color=GREY20, length=6, width=1.3, pad=3.5)
    for s in ax.spines.values():
        s.set_linewidth(2.2)
    if i == 0:
        ax.set_yticks(ypos)
        ax.set_yticklabels(terms)
        ax.tick_params(axis="y", labelsize=29, labelcolor=GREY30, color=GREY20, length=6, width=1.3, pad=2.5)
    else:
        ax.set_yticks([])

fig.add_artist(Line2D([23.18, 23.18], [(H - 3139) / 100, (H - 1996) / 100], transform=fig.dpi_scale_trans,
                      color="#E8E8E8", lw=1))
ftext(862, 1975, "Enriched terms", ha="center", va="baseline", fontsize=46, fontweight="bold")
ftext(1443, 1975, "Early Infection", ha="center", va="baseline", fontsize=46, fontweight="bold")
ftext(2030, 1975, "Late Infection", ha="center", va="baseline", fontsize=46, fontweight="bold")
ftext(1686, 3270, "Enrichment ratio", ha="center", va="baseline", fontsize=45, fontweight="bold")

green_box(2405, 2126, 2936, 2840, 90)
box3 = [[("Main ", "normal", "normal"), ("biological", "bold", "normal")],
        [("processes", "bold", "normal")],
        [("impacted during", "normal", "normal")],
        [("infection are ", "normal", "normal"), ("cell", "bold", "normal")],
        [("division", "bold", "normal"), (", ", "normal", "normal"), ("cell", "bold", "normal")],
        [("cycle", "bold", "normal"), (" (early), and", "normal", "normal")],
        [("protein folding", "bold", "normal")],
        [("(late)", "normal", "normal")]]
for k, line in enumerate(box3):
    rich(2670, 2247 + 77 * k, line, 42.5, CALIBRI)

# colour bar
rich(2676, 3122, [("Adjusted ", "bold", "normal"), ("p", "bold", "italic"), ("-value", "bold", "normal")], 45, ARIAL)
cax = px_axes(2418, 3155, 2912, 3196)
cb = fig.colorbar(cm.ScalarMappable(norm=norm, cmap=cmap), cax=cax, orientation="horizontal",
                  ticks=[0.005, 0.010, 0.015, 0.020])
cb.outline.set_visible(False)
cb.set_ticklabels(["0.005", "0.010", "0.015", "0.020"])
cax.tick_params(axis="x", direction="in", color="white", length=7, width=1.5, labelsize=29,
                labelcolor="black", pad=19, top=True)

fig.savefig("out.png", dpi=100, facecolor="white")
